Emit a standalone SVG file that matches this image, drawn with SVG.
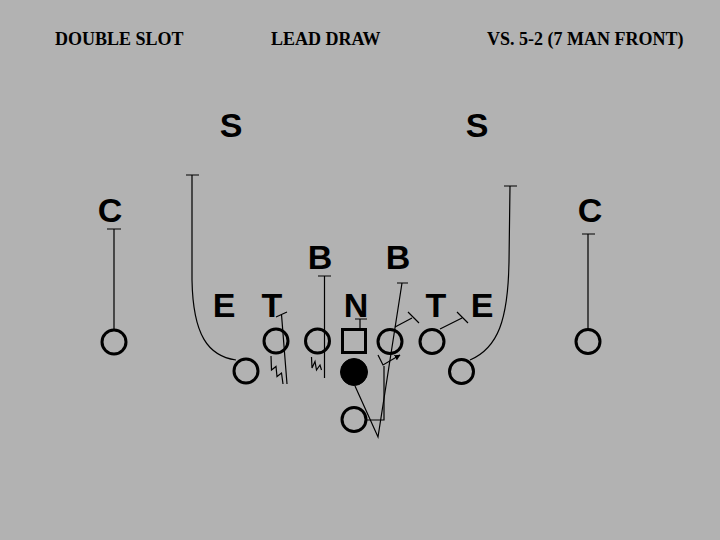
<svg xmlns="http://www.w3.org/2000/svg" width="720" height="540" viewBox="0 0 720 540">
<style>
.title{font-family:"Liberation Serif","Times New Roman",serif;font-weight:bold;font-size:18px;fill:#000}
.def{font-family:"Liberation Sans",Arial,sans-serif;font-weight:bold;font-size:34px;fill:#000;text-anchor:middle}
.off{fill:none;stroke:#000;stroke-width:3}
.qb{fill:#000;stroke:#000;stroke-width:1}
.rt{fill:none;stroke:#000;stroke-width:1.2}
</style>
<defs>
<marker id="ah" viewBox="0 0 10 10" refX="9" refY="5" markerWidth="6" markerHeight="6" orient="auto" markerUnits="userSpaceOnUse">
<path d="M0,0 L10,5 L0,10 z" fill="#000"/>
</marker>
</defs>
<rect width="720" height="540" fill="#b2b2b2"/>
<g id="titles">
<text class="title" x="55" y="45">DOUBLE SLOT</text>
<text class="title" x="271" y="45">LEAD DRAW</text>
<text class="title" x="487" y="45">VS. 5-2 (7 MAN FRONT)</text>
</g>
<g id="connectors">
<!-- left WR -->
<path class="rt" d="M114,331 V229 M107,229 H121"/>
<!-- right WR -->
<path class="rt" d="M588,330 V234 M582,234 H595"/>
<!-- left slot -->
<path class="rt" d="M236,360 C208,356 193,335 192,280 L192,175 M186,175 H199"/>
<!-- right slot -->
<path class="rt" d="M470,360 C498,348 508,320 509,262 L510,186 M504,186 H517"/>
<!-- LT -->
<path class="rt" d="M276,317 L287,312 M281.5,314.5 L287,384"/>
<path class="rt" d="M271,356 L271.5,370 L276,366.5 L277,376.5 L281.5,373 L283,384"/>
<!-- LG -->
<path class="rt" d="M318,276 H331 M324.5,276 V378"/>
<path class="rt" d="M311.5,357 L312,368 L315,361.5 L316.5,370 L320,365 L321.5,370"/>
<!-- C -->
<path class="rt" d="M360,329 V319 M355,319 H367"/>
<!-- RG -->
<path class="rt" d="M395,327 L412,318 M408,312 L419,323"/>
<!-- RT -->
<path class="rt" d="M440,329 L462,318 M457,312 L468,323"/>
<!-- QB / lead -->
<path class="rt" d="M355,386 L378,437 L402,283 M397,283 H408"/>
<!-- RB -->
<path class="rt" d="M367,420 H384 L384,366"/>
<path class="rt" d="M378,355 L383,365 L400,355" marker-end="url(#ah)"/>
</g>
<g id="defense">
<g id="S-left"><text class="def" x="231" y="137">S</text></g>
<g id="S-right"><text class="def" x="477" y="137">S</text></g>
<g id="C-left"><text class="def" x="110" y="222">C</text></g>
<g id="C-right"><text class="def" x="590" y="222">C</text></g>
<g id="B-left"><text class="def" x="320" y="269">B</text></g>
<g id="B-right"><text class="def" x="398" y="269">B</text></g>
<g id="E-left"><text class="def" x="224" y="317">E</text></g>
<g id="T-left"><text class="def" x="272" y="317">T</text></g>
<g id="N"><text class="def" x="356" y="317">N</text></g>
<g id="T-right"><text class="def" x="436" y="317">T</text></g>
<g id="E-right"><text class="def" x="482" y="317">E</text></g>
</g>
<g id="offense">
<g id="WR-left"><circle class="off" cx="114" cy="342" r="12"/></g>
<g id="slot-left"><circle class="off" cx="246" cy="371" r="12"/></g>
<g id="LT"><circle class="off" cx="276" cy="341" r="12"/></g>
<g id="LG"><circle class="off" cx="317.5" cy="341" r="12"/></g>
<g id="Center"><rect class="off" x="342.5" y="329.5" width="23" height="23"/></g>
<g id="RG"><circle class="off" cx="390" cy="341.5" r="12"/></g>
<g id="RT"><circle class="off" cx="432" cy="341.5" r="12"/></g>
<g id="slot-right"><circle class="off" cx="461.5" cy="371.5" r="12"/></g>
<g id="WR-right"><circle class="off" cx="588" cy="341.5" r="12"/></g>
<g id="QB"><circle class="qb" cx="354" cy="372" r="13.5"/></g>
<g id="RB"><circle class="off" cx="354" cy="419.5" r="12"/></g>
</g>
</svg>
